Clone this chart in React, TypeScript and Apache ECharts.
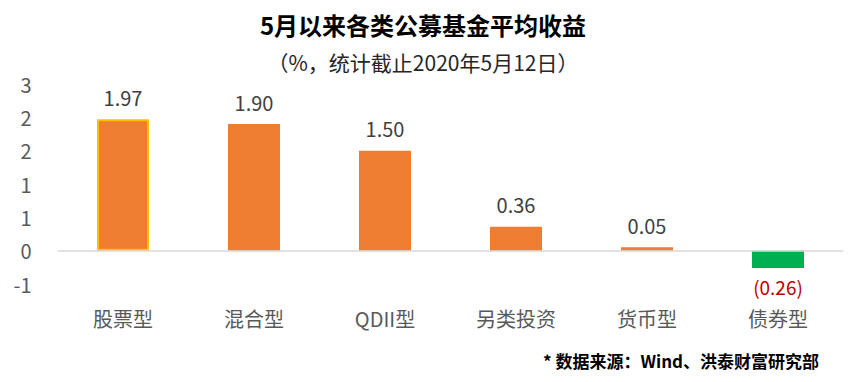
import React, { useEffect, useRef } from "react";
import * as echarts from "echarts";

const categories = ["股票型", "混合型", "QDII型", "另类投资", "货币型", "债券型"];
const values = [1.97, 1.9, 1.5, 0.36, 0.05, -0.26];
const yTicks = [-0.5, 0, 0.5, 1, 1.5, 2, 2.5];
const titleText = "5月以来各类公募基金平均收益";
const subtitleText = "（%，统计截止2020年5月12日）";
const sourceText = "* 数据来源：Wind、洪泰财富研究部";

const FONT = "'Noto Sans CJK SC', 'Noto Sans', sans-serif";

function fmt(v: number) {
  return v < 0 ? `(${Math.abs(v).toFixed(2)})` : v.toFixed(2);
}

export default function App() {
  const ref = useRef<HTMLDivElement>(null);
  useEffect(() => {
    document.body.style.margin = "0";
    if (!ref.current) return;
    const chart = echarts.init(ref.current, null, { renderer: "svg" });
    const data = values.map((v, i) => {
      const neg = v < 0;
      return {
        value: v,
        itemStyle: {
          color: neg ? "#00B050" : "#ED7D31",
          borderColor: i === 0 ? "#FFC000" : undefined,
          borderWidth: i === 0 ? 2 : 0,
        },
        label: {
          show: true,
          position: neg ? "bottom" : "top",
          distance: neg ? 9 : 12,
          color: neg ? "#C00000" : "#404040",
          fontSize: neg ? 19 : 20,
          fontFamily: FONT,
          formatter: () => fmt(v),
        },
      };
    });
    chart.setOption({
      animation: false,
      title: [
        {
          text: titleText,
          left: 418,
          textAlign: "center",
          top: 7,
          textStyle: { fontSize: 24, fontWeight: "bold", color: "#000", fontFamily: FONT },
        },
        {
          text: subtitleText,
          left: 418,
          textAlign: "center",
          top: 46,
          textStyle: { fontSize: 21, fontWeight: "normal", color: "#262626", fontFamily: FONT },
        },
        {
          text: sourceText,
          right: 27,
          top: 347,
          textStyle: { fontSize: 17, fontWeight: "bold", color: "#000", fontFamily: FONT },
        },
      ],
      grid: { left: 57.5, right: 7.5, top: 84, height: 200, containLabel: false },
      xAxis: {
        type: "category",
        data: categories,
        axisLine: { show: false, onZero: false },
        axisTick: { show: false },
        axisLabel: { color: "#595959", fontSize: 20, fontFamily: FONT, margin: 24 },
      },
      yAxis: {
        type: "value",
        min: yTicks[0],
        max: yTicks[yTicks.length - 1],
        interval: 0.5,
        splitLine: { show: false },
        axisLine: { show: false },
        axisTick: { show: false },
        axisLabel: {
          color: "#595959",
          fontSize: 20,
          fontFamily: FONT,
          margin: 26,
          formatter: (v: number) => {
            const r = Math.sign(v) * Math.round(Math.abs(v));
            return String(r === 0 ? 0 : r);
          },
        },
      },
      series: [
        {
          type: "bar",
          data,
          barWidth: 52,
          markLine: {
            silent: true,
            symbol: "none",
            label: { show: false },
            lineStyle: { color: "#D9D9D9", width: 1.5, type: "solid" },
            data: [{ yAxis: 0 }],
          },
        },
      ],
    });
    return () => chart.dispose();
  }, []);
  return <div ref={ref} style={{ width: 851, height: 382 }} />;
}
